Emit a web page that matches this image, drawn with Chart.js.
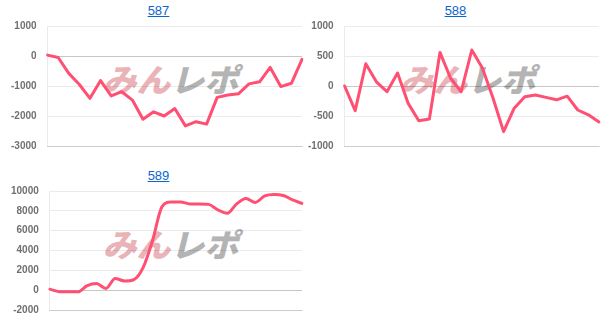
<!DOCTYPE html>
<html>
<head>
<meta charset="utf-8">
<script src="https://cdn.jsdelivr.net/npm/chart.js@4.4.1/dist/chart.umd.min.js"></script>
<style>
  html, body { margin: 0; padding: 0; background: #fff; }
  body { width: 613px; height: 327px; position: relative; overflow: hidden; font-family: "Liberation Sans", Arial, sans-serif; }
  .panel { position: absolute; height: 155px; }
  .panel .title { position: absolute; left: 0; right: 0; top: 0; height: 22px; line-height: 22px; text-align: center; font-size: 13px; }
  .panel .title a { color: #0a66cc; text-decoration: underline; }
  .panel .mark { position: absolute; left: 32px; right: 0; top: 62px; height: 32px; line-height: 32px; text-align: center; white-space: nowrap; }
  .panel .mark span.w { display: inline-block; transform: skewX(-14deg) scaleX(1.06);
    font-family: "Noto Sans CJK JP", sans-serif; font-weight: 900; font-size: 32px; letter-spacing: 0px; }
  .panel .mark .a { color: #eab3b7; }
  .panel .mark .b { color: #b4b4b4; }
  .panel canvas { position: absolute; left: 0; top: 20px; }
</style>
</head>
<body>
<div class="panel" id="p587" style="left:11px; top:0px; width:295px;">
  <div class="title"><a href="#">587</a></div>
  <div class="mark"><span class="w"><span class="a">みん</span><span class="b">レポ</span></span></div>
  <canvas id="c587" width="295" height="132"></canvas>
</div>
<div class="panel" id="p588" style="left:308px; top:0px; width:295px;">
  <div class="title"><a href="#">588</a></div>
  <div class="mark"><span class="w"><span class="a">みん</span><span class="b">レポ</span></span></div>
  <canvas id="c588" width="295" height="132"></canvas>
</div>
<div class="panel" id="p589" style="left:11px; top:165px; width:295px;">
  <div class="title"><a href="#">589</a></div>
  <div class="mark"><span class="w"><span class="a">みん</span><span class="b">レポ</span></span></div>
  <canvas id="c589" width="295" height="131"></canvas>
</div>
<script>
// 差枚データ
const series587 = [30, -50, -580, -950, -1410, -820, -1330, -1190, -1470, -2110, -1860, -2000, -1750, -2330, -2190, -2270, -1380, -1300, -1260, -930, -860, -380, -1020, -910, -110]
const series588 = [0, -410, 370, 70, -95, 215, -290, -580, -550, 560, 130, -95, 600, 300, -200, -760, -370, -180, -150, -190, -230, -170, -400, -480, -600]
const series589 = [100, -150, -170, -170, 450, 670, 170, 1170, 930, 1070, 2300, 5000, 8400, 8900, 8900, 8700, 8700, 8650, 8100, 7750, 8700, 9250, 8850, 9500, 9650, 9550, 9100, 8750]

// y axis ranges
const yRange587 = { min: -3000, max: 1000, step: 1000 }
const yRange588 = { min: -1000, max: 1000, step: 500 }
const yRange589 = { min: -2000, max: 10000, step: 2000 }

const lineColor = "#ff4f72"

function makeChart(id, values, range, tension, padBottom) {
    const ctx = document.getElementById(id).getContext("2d")
    const labels = values.map((_, i) => String(i + 1))

    return new Chart(ctx, {
        type: "line",
        data: {
            labels: labels,
            datasets: [
                {
                    data: values,
                    borderColor: lineColor,
                    backgroundColor: lineColor,
                    borderWidth: 3,
                    pointRadius: 0,
                    tension: tension,
                    cubicInterpolationMode: tension > 0 ? "monotone" : "default",
                    borderJoinStyle: "round",
                    borderCapStyle: "round",
                    fill: false,
                },
            ],
        },
        options: {
            responsive: false,
            animation: false,
            layout: { padding: { top: 0, right: 4, bottom: padBottom, left: 0 } },
            plugins: {
                legend: { display: false },
                tooltip: { enabled: false },
                title: { display: false },
            },
            scales: {
                x: {
                    ticks: { display: false },
                    grid: { display: false, drawTicks: false },
                    border: { display: true, color: "rgba(0, 0, 0, 0.13)" },
                },
                y: {
                    min: range.min,
                    max: range.max,
                    ticks: {
                        stepSize: range.step,
                        padding: 0,
                        color: "#707070",
                        font: { family: "'Liberation Sans', Arial, sans-serif", size: 10, weight: "bold" },
                        callback: (v) => String(v),
                    },
                    grid: {
                        drawTicks: true,
                        tickLength: 11,
                        tickColor: "rgba(0, 0, 0, 0)",
                        color: (c) => (c.tick && c.tick.value === 0 ? "rgba(0, 0, 0, 0.22)" : "rgba(0, 0, 0, 0.08)"),
                    },
                    border: { display: true, color: "rgba(0, 0, 0, 0.08)" },
                },
            },
        },
    })
}

makeChart("c587", series587, yRange587, 0, 6)
makeChart("c588", series588, yRange588, 0, 6)
makeChart("c589", series589, yRange589, 0.3, 4)
</script>
</body>
</html>
